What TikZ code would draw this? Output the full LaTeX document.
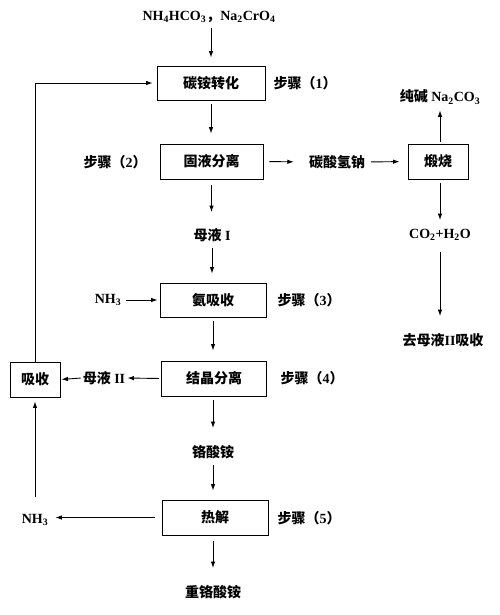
\documentclass[tikz,border=0pt]{standalone}
\usepackage{fontspec}
\setmainfont{Liberation Serif}
\newfontfamily\cjk{Noto Sans CJK SC}
\usetikzlibrary{arrows.meta}
\newcommand{\zh}[1]{{\cjk\bfseries #1}}
\tikzset{
  box/.style={draw, line width=0.9pt, inner sep=0pt, font=\fontsize{14}{16}\selectfont\cjk\bfseries},
  lbl/.style={inner sep=1pt, font=\fontsize{14}{16}\selectfont\bfseries},
  arr/.style={line width=0.9pt, -{Latex[length=6.5pt,width=4.5pt]}},
}
\begin{document}
\begin{tikzpicture}[x=1pt,y=-1pt]
\useasboundingbox (0,0) rectangle (500,615);
% boxes
\node[box, minimum width=108pt, minimum height=34pt] (b1) at (211,83) {碳铵转化};
\node[box, minimum width=103pt, minimum height=35pt] (b2) at (211.5,161.5) {固液分离};
\node[box, minimum width=60pt, minimum height=35pt] (b3) at (438,161.5) {煅烧};
\node[box, minimum width=106pt, minimum height=34pt] (b4) at (213,300) {氨吸收};
\node[box, minimum width=105pt, minimum height=35pt] (b5) at (214,378.5) {结晶分离};
\node[box, minimum width=50pt, minimum height=35pt] (b6) at (35,379.5) {吸收};
\node[box, minimum width=106pt, minimum height=35pt] (b7) at (215,517.5) {热解};
% labels
\node[lbl] (in) at (209,17) {NH\textsubscript{4}HCO\textsubscript{3}\zh{，}Na\textsubscript{2}CrO\textsubscript{4}};
\node[lbl] (s1) at (305,83) {\zh{步骤（}1\zh{）}};
\node[lbl] (s2) at (115,162) {\zh{步骤（}2\zh{）}};
\node[lbl] (s3) at (309,300) {\zh{步骤（}3\zh{）}};
\node[lbl] (s4) at (312,378) {\zh{步骤（}4\zh{）}};
\node[lbl] (s5) at (309,518) {\zh{步骤（}5\zh{）}};
\node[lbl] (nahco) at (337,162) {\zh{碳酸氢钠}};
\node[lbl] (soda) at (440,97) {\zh{纯碱} Na\textsubscript{2}CO\textsubscript{3}};
\node[lbl] (co2) at (440,235) {CO\textsubscript{2}+H\textsubscript{2}O};
\node[lbl] (go) at (443,340) {\zh{去母液}II\zh{吸收}};
\node[lbl] (m1) at (212,235) {\zh{母液} I};
\node[lbl] (nh3a) at (108,300) {NH\textsubscript{3}};
\node[lbl] (m2) at (104,378) {\zh{母液} II};
\node[lbl] (m3) at (213,452) {\zh{铬酸铵}};
\node[lbl] (nh3b) at (35,520) {NH\textsubscript{3}};
\node[lbl] (fin) at (213,592) {\zh{重铬酸铵}};
% main column
\draw[arr, shorten <=4pt, shorten >=8pt] (b1.north |- in.south) -- (b1.north);
\draw[arr, shorten <=4pt, shorten >=10pt] (b1.south) -- (b1.south |- b2.north);
\draw[arr, shorten <=6pt, shorten >=15pt] (b2.south) -- (b2.south |- m1.north);
\draw[arr, shorten <=5pt, shorten >=9pt] (m1.south) -- (m1.south |- b4.north);
\draw[arr, shorten <=4pt, shorten >=10pt] (b4.south) -- (b4.south |- b5.north);
\draw[arr, shorten <=4pt, shorten >=16pt] (b5.south -| m3) -- (m3.north);
\draw[arr, shorten <=5pt, shorten >=9pt] (m3.south) -- (m3.south |- b7.north);
\draw[arr, shorten <=6pt, shorten >=16pt] (b7.south -| fin) -- (fin.north);
% right branch
\draw[arr, shorten <=6pt, shorten >=14pt] (b2.east) -- (nahco.west);
\draw[arr, shorten <=5pt, shorten >=8pt] (nahco.east) -- (b3.west);
\draw[arr, shorten <=2pt, shorten >=5pt] (b3.north -| soda) -- (soda.south);
\draw[arr, shorten <=4pt, shorten >=8pt] (b3.south -| co2) -- (co2.north);
\draw[arr, shorten <=10pt, shorten >=16pt] (co2.south) -- (co2.south |- go.north);
% left side
\draw[arr, shorten <=4pt, shorten >=2pt] (nh3a.east) -- (b4.west);
\draw[arr, shorten <=2pt, shorten >=1pt] (b5.west) -- (m2.east);
\draw[arr, shorten <=1pt, shorten >=1pt] (m2.west) -- (b6.east);
\draw[arr, shorten >=4pt] (b6.north) |- (b1.west);
\draw[arr, shorten <=7pt, shorten >=6pt] (b7.west) -- (b7.west -| nh3b.east);
\draw[arr, shorten <=16pt, shorten >=4pt] (nh3b.north) -- (b6.south);
\end{tikzpicture}
\end{document}
